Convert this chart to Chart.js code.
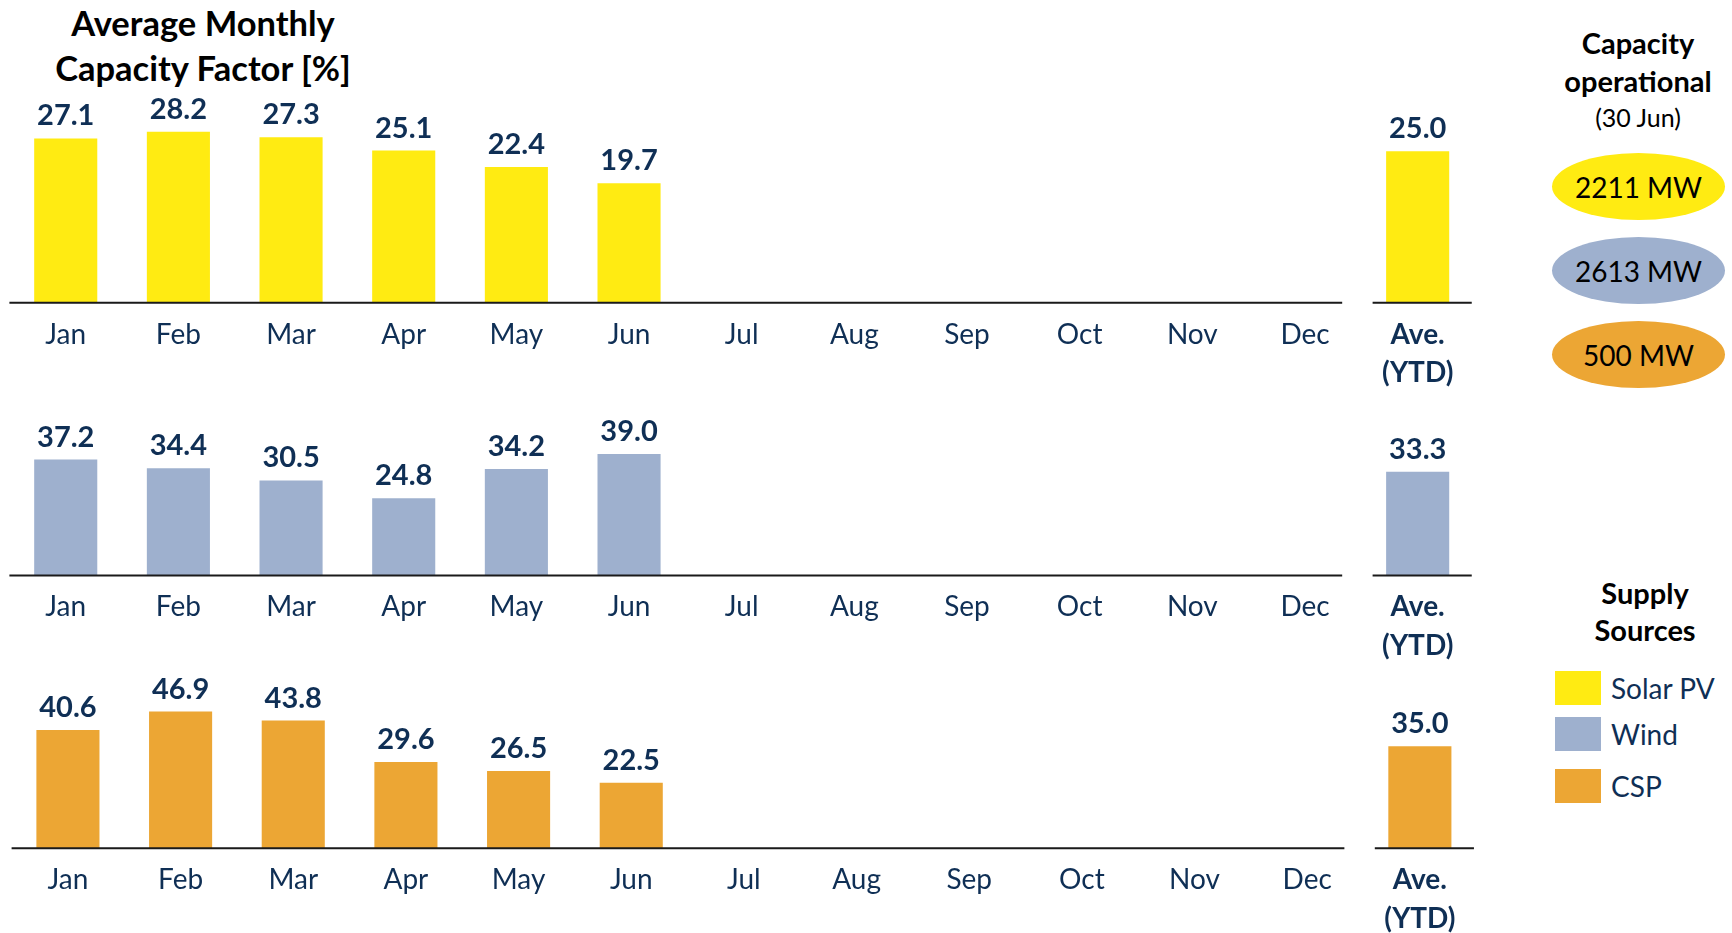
<!DOCTYPE html>
<html>
<head>
<meta charset="utf-8">
<script src="https://cdn.jsdelivr.net/npm/chart.js@4.4.1/dist/chart.umd.min.js"></script>
<style>
  body { margin: 0; background: #fff; }
  #wrap { position: relative; width: 1732px; height: 933px; overflow: hidden; font-family: Lato, sans-serif; }
  .panel { position: absolute; left: 0; }
  .txt { position: absolute; white-space: nowrap; }
  .center { text-align: center; transform: translateX(-50%); }
  .oval { position: absolute; left: 1552px; width: 173px; height: 67px; border-radius: 50%;
          display: flex; align-items: center; justify-content: center; font-size: 28px; color: #000; }
  .swatch { position: absolute; left: 1555px; width: 46px; height: 34px; }
</style>
</head>
<body>
<div id="wrap">
  <div class="txt center" style="left:203px;top:0;font-size:34.5px;font-weight:700;line-height:45px;color:#000">Average Monthly<br>Capacity Factor [%]</div>

  <div class="panel" style="top:0"><canvas id="solarChart" width="1490" height="400"></canvas></div>
  <div class="panel" style="top:395px"><canvas id="windChart" width="1490" height="270"></canvas></div>
  <div class="panel" style="top:665px"><canvas id="cspChart" width="1490" height="268"></canvas></div>

  <div class="txt center" style="left:1638px;top:24px;font-size:29px;font-weight:700;line-height:38px;color:#000">Capacity<br>operational</div>
  <div class="txt center" style="left:1638px;top:102px;font-size:25px;line-height:30px;color:#000">(30 Jun)</div>
  <div id="ovals"></div>

  <div class="txt center" style="left:1645px;top:574px;font-size:29px;font-weight:700;line-height:37px;color:#000">Supply<br>Sources</div>
  <div id="legend"></div>
</div>

<script>
const months = ['Jan', 'Feb', 'Mar', 'Apr', 'May', 'Jun', 'Jul', 'Aug', 'Sep', 'Oct', 'Nov', 'Dec']
const categories = [...months, ['Ave.', '(YTD)']]

// capacity factor [%], Jul-Dec not reported yet, last entry is the YTD average
const solarCF = [27.1, 28.2, 27.3, 25.1, 22.4, 19.7, null, null, null, null, null, null, 25.0]
const windCF = [37.2, 34.4, 30.5, 24.8, 34.2, 39.0, null, null, null, null, null, null, 33.3]
const cspCF = [40.6, 46.9, 43.8, 29.6, 26.5, 22.5, null, null, null, null, null, null, 35.0]

const sources = ['Solar PV', 'Wind', 'CSP']
const capacityMW = [2211, 2613, 500]
const colors = ['#ffeb12', '#9eb0ce', '#eca634']

const navy = '#0f2f55'

// axis line, broken between Dec and the average
const baselinePlugin = {
  id: 'baseline',
  afterDatasetsDraw(chart) {
    const x = chart.scales.x
    const y = chart.chartArea.bottom
    const step = x.getPixelForValue(1) - x.getPixelForValue(0)
    const ctx = chart.ctx
    ctx.save()
    ctx.strokeStyle = '#1a1a1a'
    ctx.lineWidth = 2
    ctx.beginPath()
    ctx.moveTo(x.left, y)
    ctx.lineTo(x.getPixelForValue(11) + step * 0.33, y)
    ctx.moveTo(x.getPixelForValue(12) - step * 0.4, y)
    ctx.lineTo(x.getPixelForValue(12) + step * 0.48, y)
    ctx.stroke()
    ctx.restore()
  },
}

// value labels above the bars
const valueLabels = {
  id: 'valueLabels',
  afterDatasetsDraw(chart) {
    const ctx = chart.ctx
    const meta = chart.getDatasetMeta(0)
    const values = chart.data.datasets[0].data
    ctx.save()
    ctx.fillStyle = navy
    ctx.font = '700 29px Lato'
    ctx.textAlign = 'center'
    ctx.textBaseline = 'alphabetic'
    meta.data.forEach((bar, i) => {
      if (values[i] == null) return
      ctx.fillText(values[i].toFixed(1), bar.x, bar.y - 13)
    })
    ctx.restore()
  },
}

function drawPanel(canvasId, data, color, yMax, padTop, padLeft, axisHeight) {
  return new Chart(document.getElementById(canvasId).getContext('2d'), {
    type: 'bar',
    data: {
      labels: categories,
      datasets: [
        {
          data,
          backgroundColor: color,
          categoryPercentage: 1,
          barPercentage: 0.56,
        },
      ],
    },
    options: {
      responsive: false,
      animation: false,
      layout: { padding: { top: padTop, left: padLeft, right: 25.4 - padLeft, bottom: 0 } },
      plugins: {
        legend: { display: false },
        tooltip: { enabled: false },
      },
      scales: {
        x: {
          grid: { display: false, drawTicks: false },
          border: { display: false },
          afterFit: (scale) => { scale.height = axisHeight },
          ticks: {
            color: navy,
            padding: 12.5,
            autoSkip: false,
            maxRotation: 0,
            font: (ctx) => ({
              family: 'Lato',
              size: 28,
              weight: ctx.index === 12 ? '700' : '400',
              lineHeight: 1.38,
            }),
          },
        },
        y: { display: false, min: 0, max: yMax },
      },
    },
    plugins: [baselinePlugin, valueLabels],
  })
}

drawPanel('solarChart', solarCF, colors[0], 40, 60.3, 9.4, 97.3)
drawPanel('windChart', windCF, colors[1], 50, 24.75, 9.4, 89.5)
drawPanel('cspChart', cspCF, colors[2], 60, 8.4, 11.6, 84.7)

// capacity ovals and supply-source legend
const ovalTops = [153, 237, 321]
const swatchTops = [671, 717, 769]
const ovals = document.getElementById('ovals')
const legend = document.getElementById('legend')
sources.forEach((name, i) => {
  const o = document.createElement('div')
  o.className = 'oval'
  o.style.top = ovalTops[i] + 'px'
  o.style.background = colors[i]
  o.textContent = capacityMW[i] + ' MW'
  ovals.appendChild(o)

  const s = document.createElement('div')
  s.className = 'swatch'
  s.style.top = swatchTops[i] + 'px'
  s.style.background = colors[i]
  legend.appendChild(s)

  const t = document.createElement('div')
  t.className = 'txt'
  t.style.cssText = `left:1611px;top:${swatchTops[i] - 2}px;font-size:28px;line-height:38px;color:${navy}`
  t.textContent = name
  legend.appendChild(t)
})
</script>
</body>
</html>
